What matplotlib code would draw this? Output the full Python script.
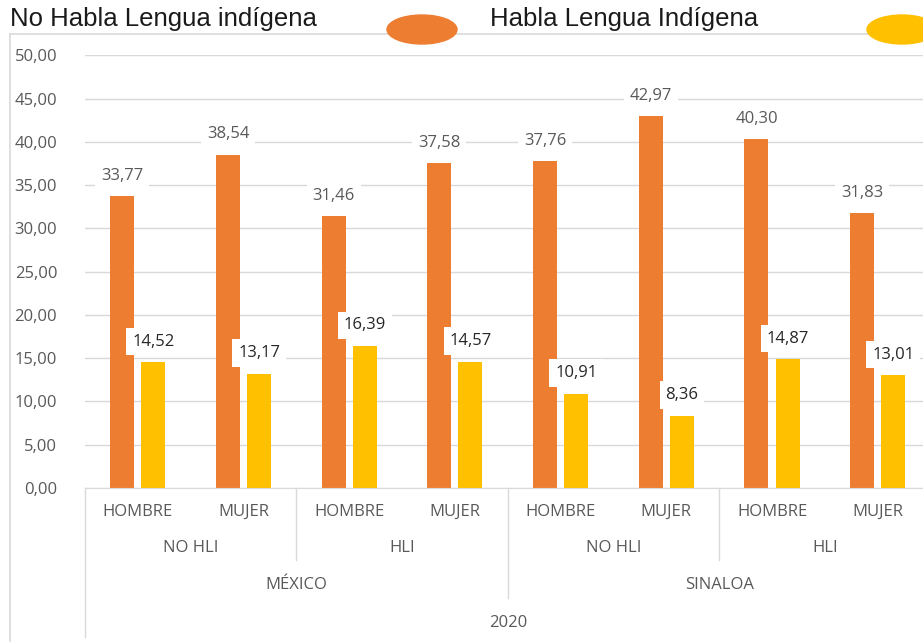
import numpy as np
import matplotlib
matplotlib.use('Agg')
import matplotlib.pyplot as plt
from matplotlib.patches import Ellipse
from matplotlib.lines import Line2D
from matplotlib.transforms import blended_transform_factory

plt.rcParams['font.family'] = ['Open Sans', 'DejaVu Sans']

# datos
sexo = ['HOMBRE', 'MUJER', 'HOMBRE', 'MUJER', 'HOMBRE', 'MUJER', 'HOMBRE', 'MUJER']
grupo = ['NO HLI', 'HLI', 'NO HLI', 'HLI']
region = ['MÉXICO', 'SINALOA']
anio = '2020'
no_habla = [33.77, 38.54, 31.46, 37.58, 37.76, 42.97, 40.30, 31.83]
habla = [14.52, 13.17, 16.39, 14.57, 10.91, 8.36, 14.87, 13.01]

naranja = '#ED7D31'
amarillo = '#FFC000'
gris = '#595959'
linea = '#D9D9D9'

fig = plt.figure(figsize=(9.23, 6.42), dpi=100)
ax = fig.add_axes([0.0921, 0.2399, 0.9161, 0.6737])

x = np.arange(len(sexo))
w = 0.227
b1 = ax.bar(x - 0.147, no_habla, w, color=naranja, zorder=2)
b2 = ax.bar(x + 0.147, habla, w, color=amarillo, zorder=2)

def fmt(v):
    return f'{v:.2f}'.replace('.', ',')

for rect, v in zip(b1, no_habla):
    ax.annotate(fmt(v), (rect.get_x() + rect.get_width() / 2, v),
                xytext=(0, 14.5), textcoords='offset points', ha='center', va='center',
                fontsize=12, color=gris, zorder=4,
                bbox=dict(boxstyle='square,pad=0.35', fc='white', ec='none'))
for rect, v in zip(b2, habla):
    ax.annotate(fmt(v), (rect.get_x() + rect.get_width() / 2, v),
                xytext=(0, 15), textcoords='offset points', ha='center', va='center',
                fontsize=12, color='#262626', zorder=4,
                bbox=dict(boxstyle='square,pad=0.35', fc='white', ec='none'))

ax.set_xlim(-0.5, len(sexo) - 0.5)
ax.set_ylim(0, 50)
ax.set_yticks(np.arange(0, 51, 5))
ax.set_yticklabels([fmt(v) for v in np.arange(0, 51, 5)], fontsize=12, color=gris)
ax.tick_params(axis='y', length=0, pad=20)
ax.set_xticks([])
ax.yaxis.grid(True, color=linea, lw=1, zorder=0)
for s in ['top', 'right', 'left']:
    ax.spines[s].set_visible(False)
ax.spines['bottom'].set_color(linea)

# eje de categorias en varios niveles
tr = blended_transform_factory(ax.transData, fig.transFigure)
for i, s in enumerate(sexo):
    ax.text(i, 0.2025, s, transform=tr, ha='center', va='center', fontsize=12, color=gris)
for i, g in enumerate(grupo):
    ax.text(2 * i + 0.5, 0.1464, g, transform=tr, ha='center', va='center', fontsize=12, color=gris)
for i, r in enumerate(region):
    ax.text(4 * i + 1.5, 0.0888, r, transform=tr, ha='center', va='center', fontsize=12, color=gris)
ax.text(3.5, 0.0296, anio, transform=tr, ha='center', va='center', fontsize=12, color=gris)

y0 = 0.2399
for xs, yb in [(-0.5, 0.0078), (1.5, 0.1277), (3.5, 0.0685), (5.5, 0.1277)]:
    fig.add_artist(Line2D([xs, xs], [y0, yb], transform=tr, color=linea, lw=1, clip_on=False))

# borde del area del grafico
fig.add_artist(Line2D([0.0108, 1], [0.947, 0.947], color=linea, lw=1.2))
fig.add_artist(Line2D([0.0108, 0.0108], [0.947, 0], color=linea, lw=1.2))

# leyenda
fig.text(10 / 923, 1 - 19 / 642, 'No Habla Lengua indígena', fontsize=18.5,
         family=['Liberation Sans', 'DejaVu Sans'], color='#1a1a1a', ha='left', va='center')
fig.text(490 / 923, 1 - 19 / 642, 'Habla Lengua Indígena', fontsize=18.5,
         family=['Liberation Sans', 'DejaVu Sans'], color='#1a1a1a', ha='left', va='center')
fig.add_artist(Ellipse((422 / 923, 1 - 29.5 / 642), 70 / 923, 29 / 642,
                       transform=fig.transFigure, color=naranja, zorder=5))
fig.add_artist(Ellipse((902 / 923, 1 - 29.5 / 642), 70 / 923, 29 / 642,
                       transform=fig.transFigure, color=amarillo, zorder=5))

fig.savefig('out.png', dpi=100)
